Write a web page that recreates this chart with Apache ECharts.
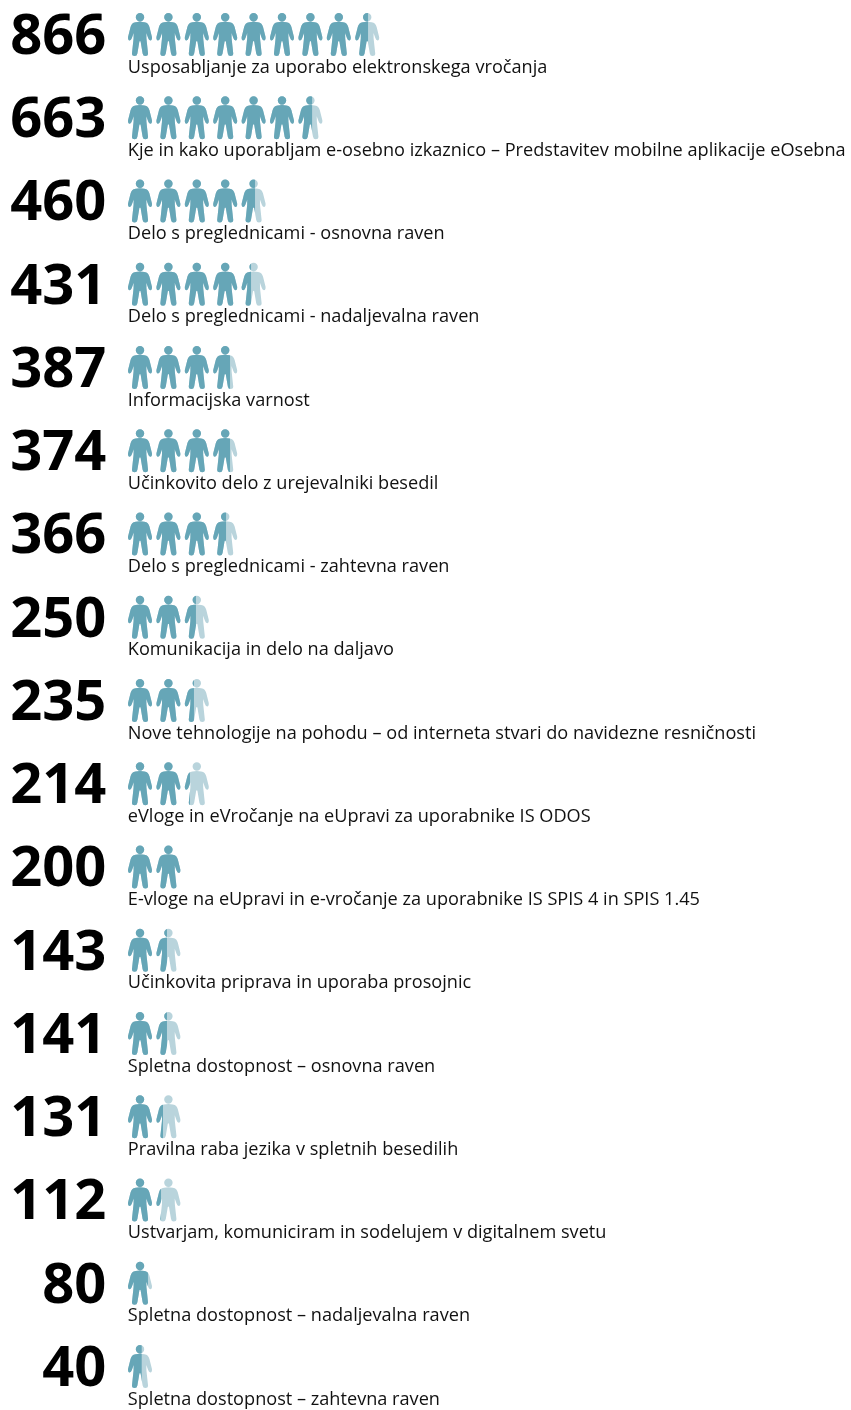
<!DOCTYPE html>
<html>
<head>
<meta charset="utf-8">
<style>html,body{margin:0;padding:0;background:#fff}#c{width:851px;height:1410px}</style>
<script src="https://cdn.jsdelivr.net/npm/echarts@6/dist/echarts.min.js"></script>
</head>
<body>
<div id="c"></div>
<script>
const categories = [
  "Usposabljanje za uporabo elektronskega vročanja",
  "Kje in kako uporabljam e-osebno izkaznico – Predstavitev mobilne aplikacije eOsebna",
  "Delo s preglednicami - osnovna raven",
  "Delo s preglednicami - nadaljevalna raven",
  "Informacijska varnost",
  "Učinkovito delo z urejevalniki besedil",
  "Delo s preglednicami - zahtevna raven",
  "Komunikacija in delo na daljavo",
  "Nove tehnologije na pohodu – od interneta stvari do navidezne resničnosti",
  "eVloge in eVročanje na eUpravi za uporabnike IS ODOS",
  "E-vloge na eUpravi in e-vročanje za uporabnike IS SPIS 4 in SPIS 1.45",
  "Učinkovita priprava in uporaba prosojnic",
  "Spletna dostopnost – osnovna raven",
  "Pravilna raba jezika v spletnih besedilih",
  "Ustvarjam, komuniciram in sodelujem v digitalnem svetu",
  "Spletna dostopnost – nadaljevalna raven",
  "Spletna dostopnost – zahtevna raven"
];
const values = [866, 663, 460, 431, 387, 374, 366, 250, 235, 214, 200, 143, 141, 131, 112, 80, 40];
// Figures drawn per row (light silhouettes), and how far the dark fill reaches, in figures.
const figuresDrawn = [9, 7, 5, 5, 4, 4, 4, 3, 3, 3, 2, 2, 2, 2, 2, 1, 1];
const figuresFilled = [8.53, 6.56, 4.55, 4.41, 3.67, 3.67, 3.53, 2.47, 2.40, 2.26, 2.00, 1.45, 1.45, 1.31, 1.24, 0.78, 0.56];

const PERSON = 'path://M12 0a4.2 4.2 0 1 1 0 8.4a4.2 4.2 0 1 1 0-8.4Z' +
  'M7.6 9.2Q12 8.2 16.4 9.2C19.4 9.8 20.6 11.2 21.4 14L23.9 24Q24.2 27.4 22.3 27.4Q20.8 27.4 20.1 25L18.3 20L18.4 25.5L20 40.5Q20 43 17.3 43Q15 43 14.6 40.5L12.6 28.5Q12 27.5 11.4 28.5L9.4 40.5Q9 43 6.7 43Q4 43 4 40.5L5.6 25.5L5.7 20L3.9 25Q3.2 27.4 1.7 27.4Q-0.2 27.4 0.1 24L2.6 14C3.4 11.2 4.6 9.8 7.6 9.2Z';

const picto = {
  type: 'pictorialBar',
  symbol: PERSON,
  symbolSize: [24, 43],
  symbolRepeat: 'fixed',
  symbolMargin: '2.2!',
  symbolClip: true,
  symbolBoundingData: 10,
  silent: true,
  animation: false,
  barGap: '-100%',
  barWidth: 43
};

const anchors = categories.map((c, i) => [0, i]);
const textSeries = (name, label) => ({
  type: 'scatter', name, silent: true, symbolSize: 1,
  itemStyle: {color: 'transparent', opacity: 1},
  data: anchors, label: Object.assign({show: true, fontFamily: 'Open Sans'}, label), z: 4
});

const chart = echarts.init(document.getElementById('c'), null, {renderer: 'canvas', width: 851, height: 1410});
chart.setOption({
  animation: false,
  backgroundColor: '#fff',
  grid: {left: 125.8, top: -7.1, width: 710, height: 1415.25, containLabel: false, outerBoundsMode: 'none'},
  xAxis: {type: 'value', min: 0, max: 25, show: false},
  yAxis: {type: 'category', inverse: true, data: categories, show: false},
  series: [
    Object.assign({}, picto, {name: 'figures', itemStyle: {color: '#b9d4dc'}, data: figuresDrawn, z: 2}),
    Object.assign({}, picto, {name: 'filled', itemStyle: {color: '#66a6b7'}, data: figuresFilled, z: 3}),
    textSeries('values', {
      position: 'left', distance: 19, offset: [0, 3.5],
      fontWeight: 'bold', fontSize: 56, color: '#000',
      formatter: p => String(values[p.dataIndex])
    }),
    textSeries('labels', {
      position: 'right', distance: 1.5, offset: [0, 33],
      fontSize: 18.15, color: '#111',
      formatter: p => categories[p.dataIndex]
    })
  ]
});
</script>
</body>
</html>
